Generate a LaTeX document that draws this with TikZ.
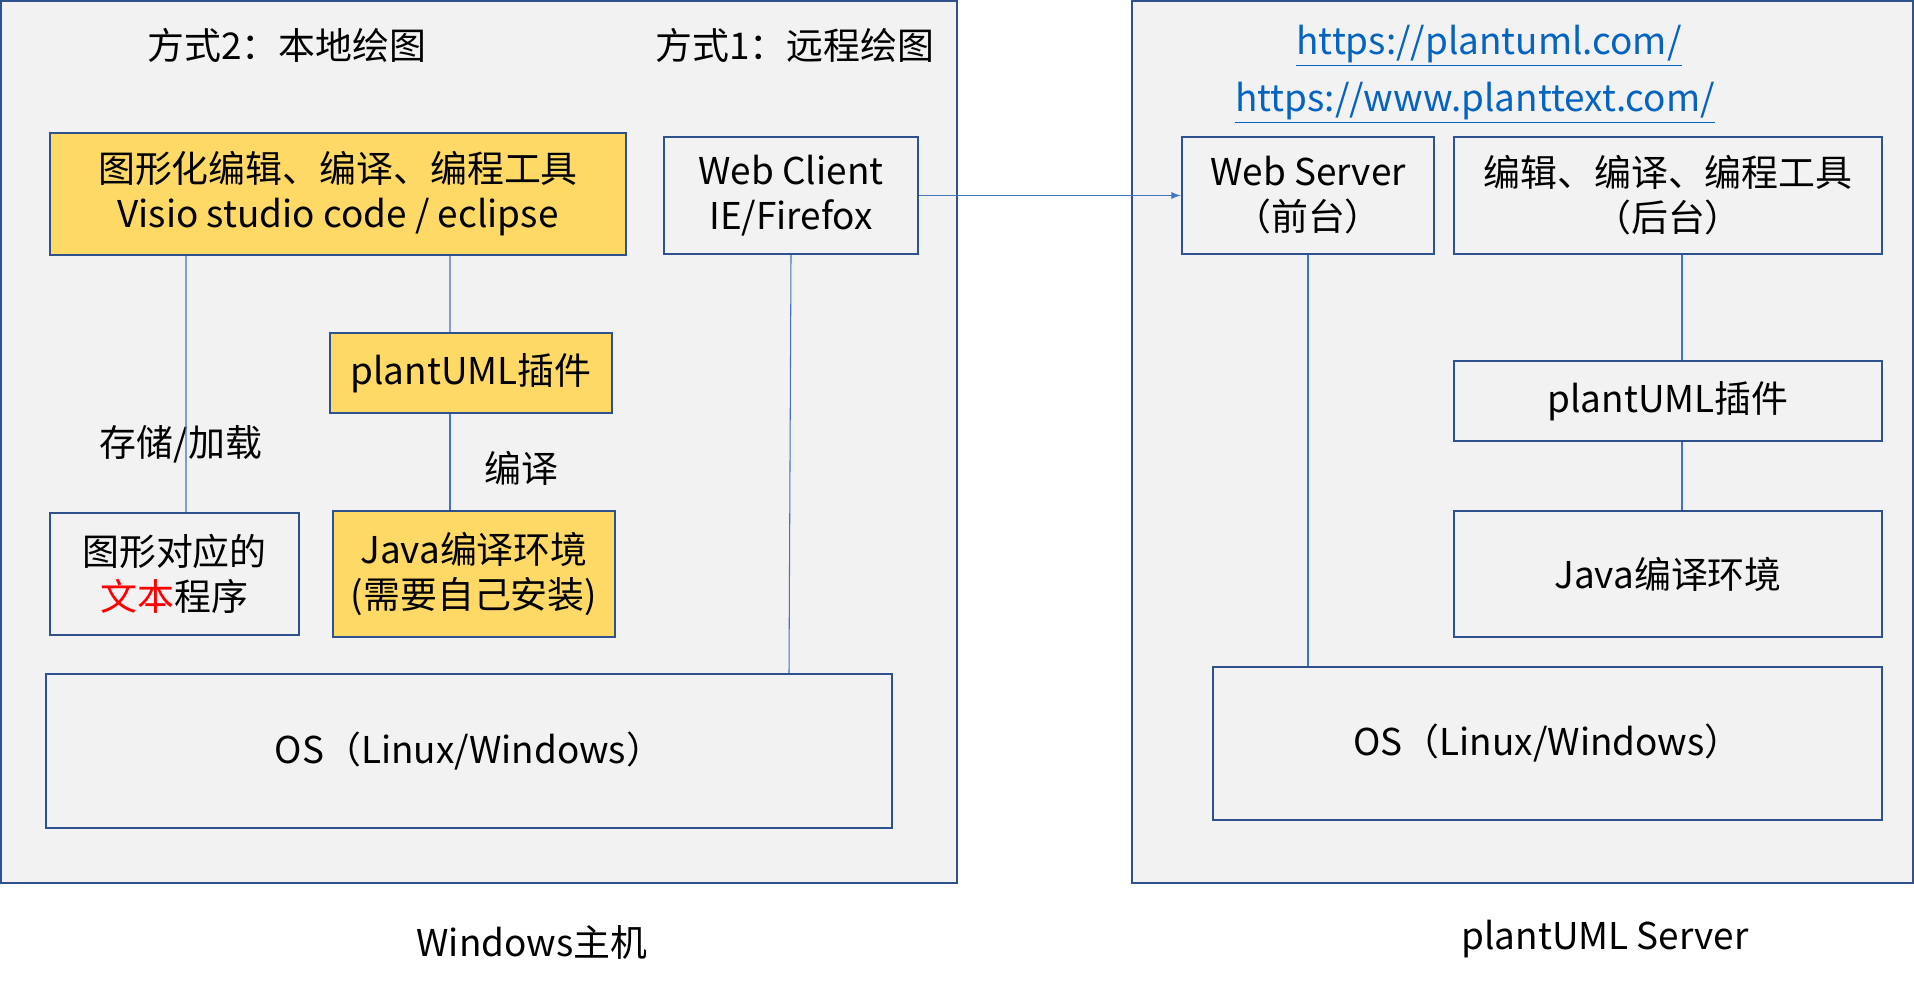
\documentclass[tikz,border=0pt]{standalone}
\usepackage{fontspec}
\setmainfont{Noto Sans CJK SC}
\usepackage{tikz}
\usetikzlibrary{positioning}
\usepackage{xcolor}
\definecolor{hostgray}{HTML}{F2F2F2}
\definecolor{boxblue}{HTML}{2F528F}
\definecolor{linkblue}{HTML}{4472C4}
\definecolor{toolyellow}{HTML}{FFD966}
\definecolor{urlblue}{HTML}{0563C1}

\begin{document}
\begin{tikzpicture}[
      host/.style={rectangle, draw=boxblue, line width=1.4pt, fill=hostgray, inner sep=0pt},
      part/.style={rectangle, draw=boxblue, line width=1.4pt, fill=hostgray, inner sep=0pt,
                   align=center, font=\fontsize{21}{25.5}\selectfont},
      tool/.style={part, fill=toolyellow},
      label/.style={inner sep=0pt, font=\fontsize{21}{25.5}\selectfont},
      url/.style={label, text=urlblue},
      link/.style={draw=linkblue, line width=0.6pt},
      >=latex
  ]
    \fill[white] (0,0) rectangle (38.28,19.78);
    \useasboundingbox (0,0) rectangle (38.28,19.78);

    % --- Hosts ---
    \node[host, minimum width=19.12cm, minimum height=17.64cm] (winhost) at (9.58, 10.94) {};
    \node[host, minimum width=15.62cm, minimum height=17.64cm] (server) at (30.45, 10.94) {};
    \node[label] (wincap) at (10.64, 0.94) {Windows主机};
    \node[label] (servercap) at (32.1, 1.0) {plantUML Server};

    % --- Windows host: local and remote drawing ---
    \node[label] (way2) at (5.74, 18.88) {方式2：本地绘图};
    \node[label] (way1) at (15.9, 18.88) {方式1：远程绘图};
    \node[tool, minimum width=11.52cm, minimum height=2.44cm] (ide) at (6.76, 15.9)
      {图形化编辑、编译、编程工具\\Visio studio code / eclipse};
    \node[part, minimum width=5.08cm, minimum height=2.34cm] (client) at (15.82, 15.87)
      {Web Client\\IE/Firefox};
    \node[tool, minimum width=5.64cm, minimum height=1.6cm] (plugin) at (9.42, 12.32)
      {plantUML插件};
    \node[tool, minimum width=5.64cm, minimum height=2.52cm] (java) at (9.48, 8.3)
      {Java编译环境\\(需要自己安装)};
    \node[part, minimum width=4.98cm, minimum height=2.44cm] (source) at (3.49, 8.3)
      {图形对应的\\\textcolor{red}{文本}程序};
    \node[part, minimum width=16.92cm, minimum height=3.08cm] (os) at (9.38, 4.76)
      {OS（Linux/Windows）};
    \node[label] (store) at (3.62, 10.9) {存储/加载};
    \node[label] (compile) at (10.42, 10.42) {编译};

    \draw[link] ([xshift=-3.04cm]ide.south) -- ([xshift=0.23cm]source.north);
    \draw[link] ([xshift=2.24cm]ide.south) -- ([xshift=-0.42cm]plugin.north);
    \draw[link] ([xshift=-0.42cm]plugin.south) -- ([xshift=-0.48cm]java.north);
    \draw[link] (client.south) -- ([xshift=-0.04cm]client.south |- os.north);

    % --- plantUML server ---
    \node[url] (url1) at (29.78, 18.86) {\underline{https://plantuml.com/}};
    \node[url] (url2) at (29.5, 17.72) {\underline{https://www.planttext.com/}};
    \node[part, minimum width=5.04cm, minimum height=2.34cm] (web) at (26.16, 15.87)
      {Web Server\\（前台）};
    \node[part, minimum width=8.56cm, minimum height=2.34cm] (backend) at (33.36, 15.87)
      {编辑、编译、编程工具\\（后台）};
    \node[part, minimum width=8.56cm, minimum height=1.6cm] (splugin) at (33.36, 11.76)
      {plantUML插件};
    \node[part, minimum width=8.56cm, minimum height=2.52cm] (sjava) at (33.36, 8.3)
      {Java编译环境};
    \node[part, minimum width=13.38cm, minimum height=3.06cm] (sos) at (30.95, 4.91)
      {OS（Linux/Windows）};

    \draw[link] (web.south) -- (web.south |- sos.north);
    \draw[link] ([xshift=0.28cm]backend.south) -- ([xshift=0.28cm]splugin.north);
    \draw[link] ([xshift=0.28cm]splugin.south) -- ([xshift=0.28cm]sjava.north);

    % --- request from client to server ---
    \draw[->, draw=linkblue, fill=linkblue, line width=0.85pt] (client.east) -- (web.west);

  \end{tikzpicture}
\end{document}
